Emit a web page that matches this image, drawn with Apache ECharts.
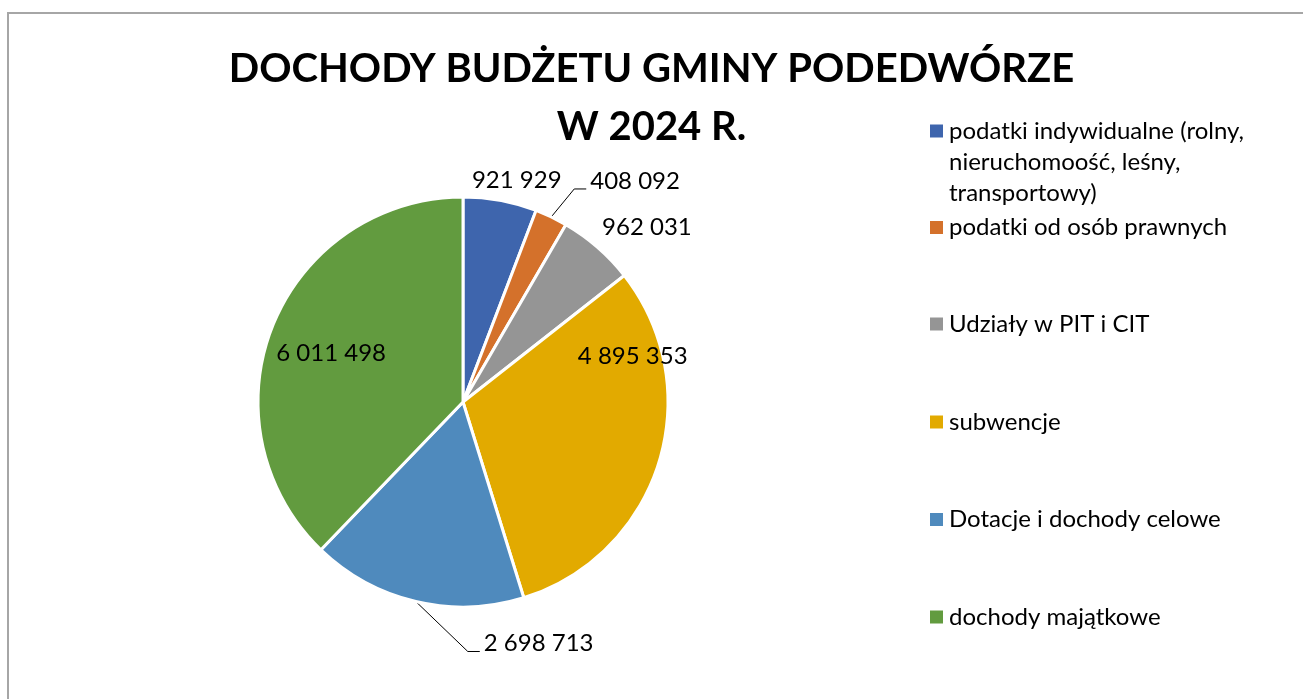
<!DOCTYPE html>
<html>
<head>
<meta charset="utf-8">
<script src="https://cdn.jsdelivr.net/npm/echarts@6/dist/echarts.min.js"></script>
<style>
  html, body { margin: 0; padding: 0; background: #fff; }
  #chart { width: 1303px; height: 699px; }
</style>
</head>
<body>
<div id="chart"></div>
<script>
// dane
const categories = [
  'podatki indywidualne (rolny,\nnieruchomoość, leśny,\ntransportowy)',
  'podatki od osób prawnych',
  'Udziały w PIT i CIT',
  'subwencje',
  'Dotacje i dochody celowe',
  'dochody majątkowe'
]
const values = [921929, 408092, 962031, 4895353, 2698713, 6011498]
const colors = ['#3e65ad', '#d4712b', '#959595', '#e2aa00', '#4f8abd', '#629b3f']

const FONT = 'Lato'
const legendTops = [53.5, 212, 308.5, 406.5, 504, 601.5]
const labelShift = [[-35, -10], [0, 0], [-7, -12], [69, -77], [0, 0], [-34, -9]]

function fmt (v) {
  return String(v).replace(/\B(?=(\d{3})+(?!\d))/g, ' ')
}

let myChart = echarts.init(document.getElementById('chart'))

let seriesData = categories.map(function (name, i) {
  let item = { name: name, value: values[i], itemStyle: { color: colors[i] } }
  if (i === 3 || i === 5) {
    item.label = { position: 'inside' }
  }
  if (i === 1 || i === 4) {
    item.labelLine = { show: true }
  }
  return item
})

// osobna legenda dla kazdej pozycji (rozne odstepy jak w Excelu)
let legends = categories.map(function (name, i) {
  return {
    data: [name],
    orient: 'vertical',
    left: 928,
    top: legendTops[i],
    padding: 0,
    icon: 'rect',
    itemWidth: 15,
    itemHeight: 15,
    selectedMode: false,
    // pierwsza pozycja: znacznik przy pierwszej linii tekstu
    formatter: i === 0 ? function (n) { return '\n\n' + n } : '{name}',
    textStyle: {
      fontFamily: FONT,
      fontSize: 24,
      lineHeight: 31,
      color: '#000'
    }
  }
})

var option = {
  backgroundColor: '#fff',
  animation: false,
  graphic: [
    {
      type: 'rect',
      shape: { x: 8, y: 13, width: 1400, height: 800 },
      style: { fill: 'none', stroke: '#a6a6a6', lineWidth: 2 },
      silent: true
    }
  ],
  title: {
    text: 'DOCHODY BUDŻETU GMINY PODEDWÓRZE\nW 2024 R.',
    left: 'center',
    top: 40,
    padding: [0, 0, 0, 36],
    textStyle: {
      fontFamily: FONT,
      fontSize: 40,
      fontWeight: 'bold',
      lineHeight: 58,
      color: '#000'
    }
  },
  legend: legends,
  series: [
    {
      type: 'pie',
      center: [463, 402],
      radius: 205,
      startAngle: 90,
      clockwise: true,
      avoidLabelOverlap: false,
      data: seriesData,
      itemStyle: { borderColor: '#fff', borderWidth: 3 },
      label: {
        show: true,
        position: 'outside',
        formatter: function (p) { return fmt(p.value) },
        fontFamily: FONT,
        fontSize: 24,
        color: '#000'
      },
      labelLine: {
        show: false,
        length: 10,
        length2: 0,
        lineStyle: { color: '#000', width: 1 }
      },
      labelLayout: function (p) {
        let i = p.dataIndex
        if ((i === 1 || i === 4) && p.labelLinePoints) {
          let a = p.labelLinePoints[0]
          let b = i === 1 ? [a[0] + 23, a[1] - 28] : [a[0] + 52, a[1] + 50]
          let c = [b[0] + 12, b[1]]
          return {
            x: c[0] + 4,
            y: c[1] - 8,
            align: 'left',
            verticalAlign: 'middle',
            labelLinePoints: [a, b, c]
          }
        }
        return { dx: labelShift[i][0], dy: labelShift[i][1] }
      },
      emphasis: { disabled: true }
    }
  ]
}

myChart.setOption(option, true)
</script>
</body>
</html>
